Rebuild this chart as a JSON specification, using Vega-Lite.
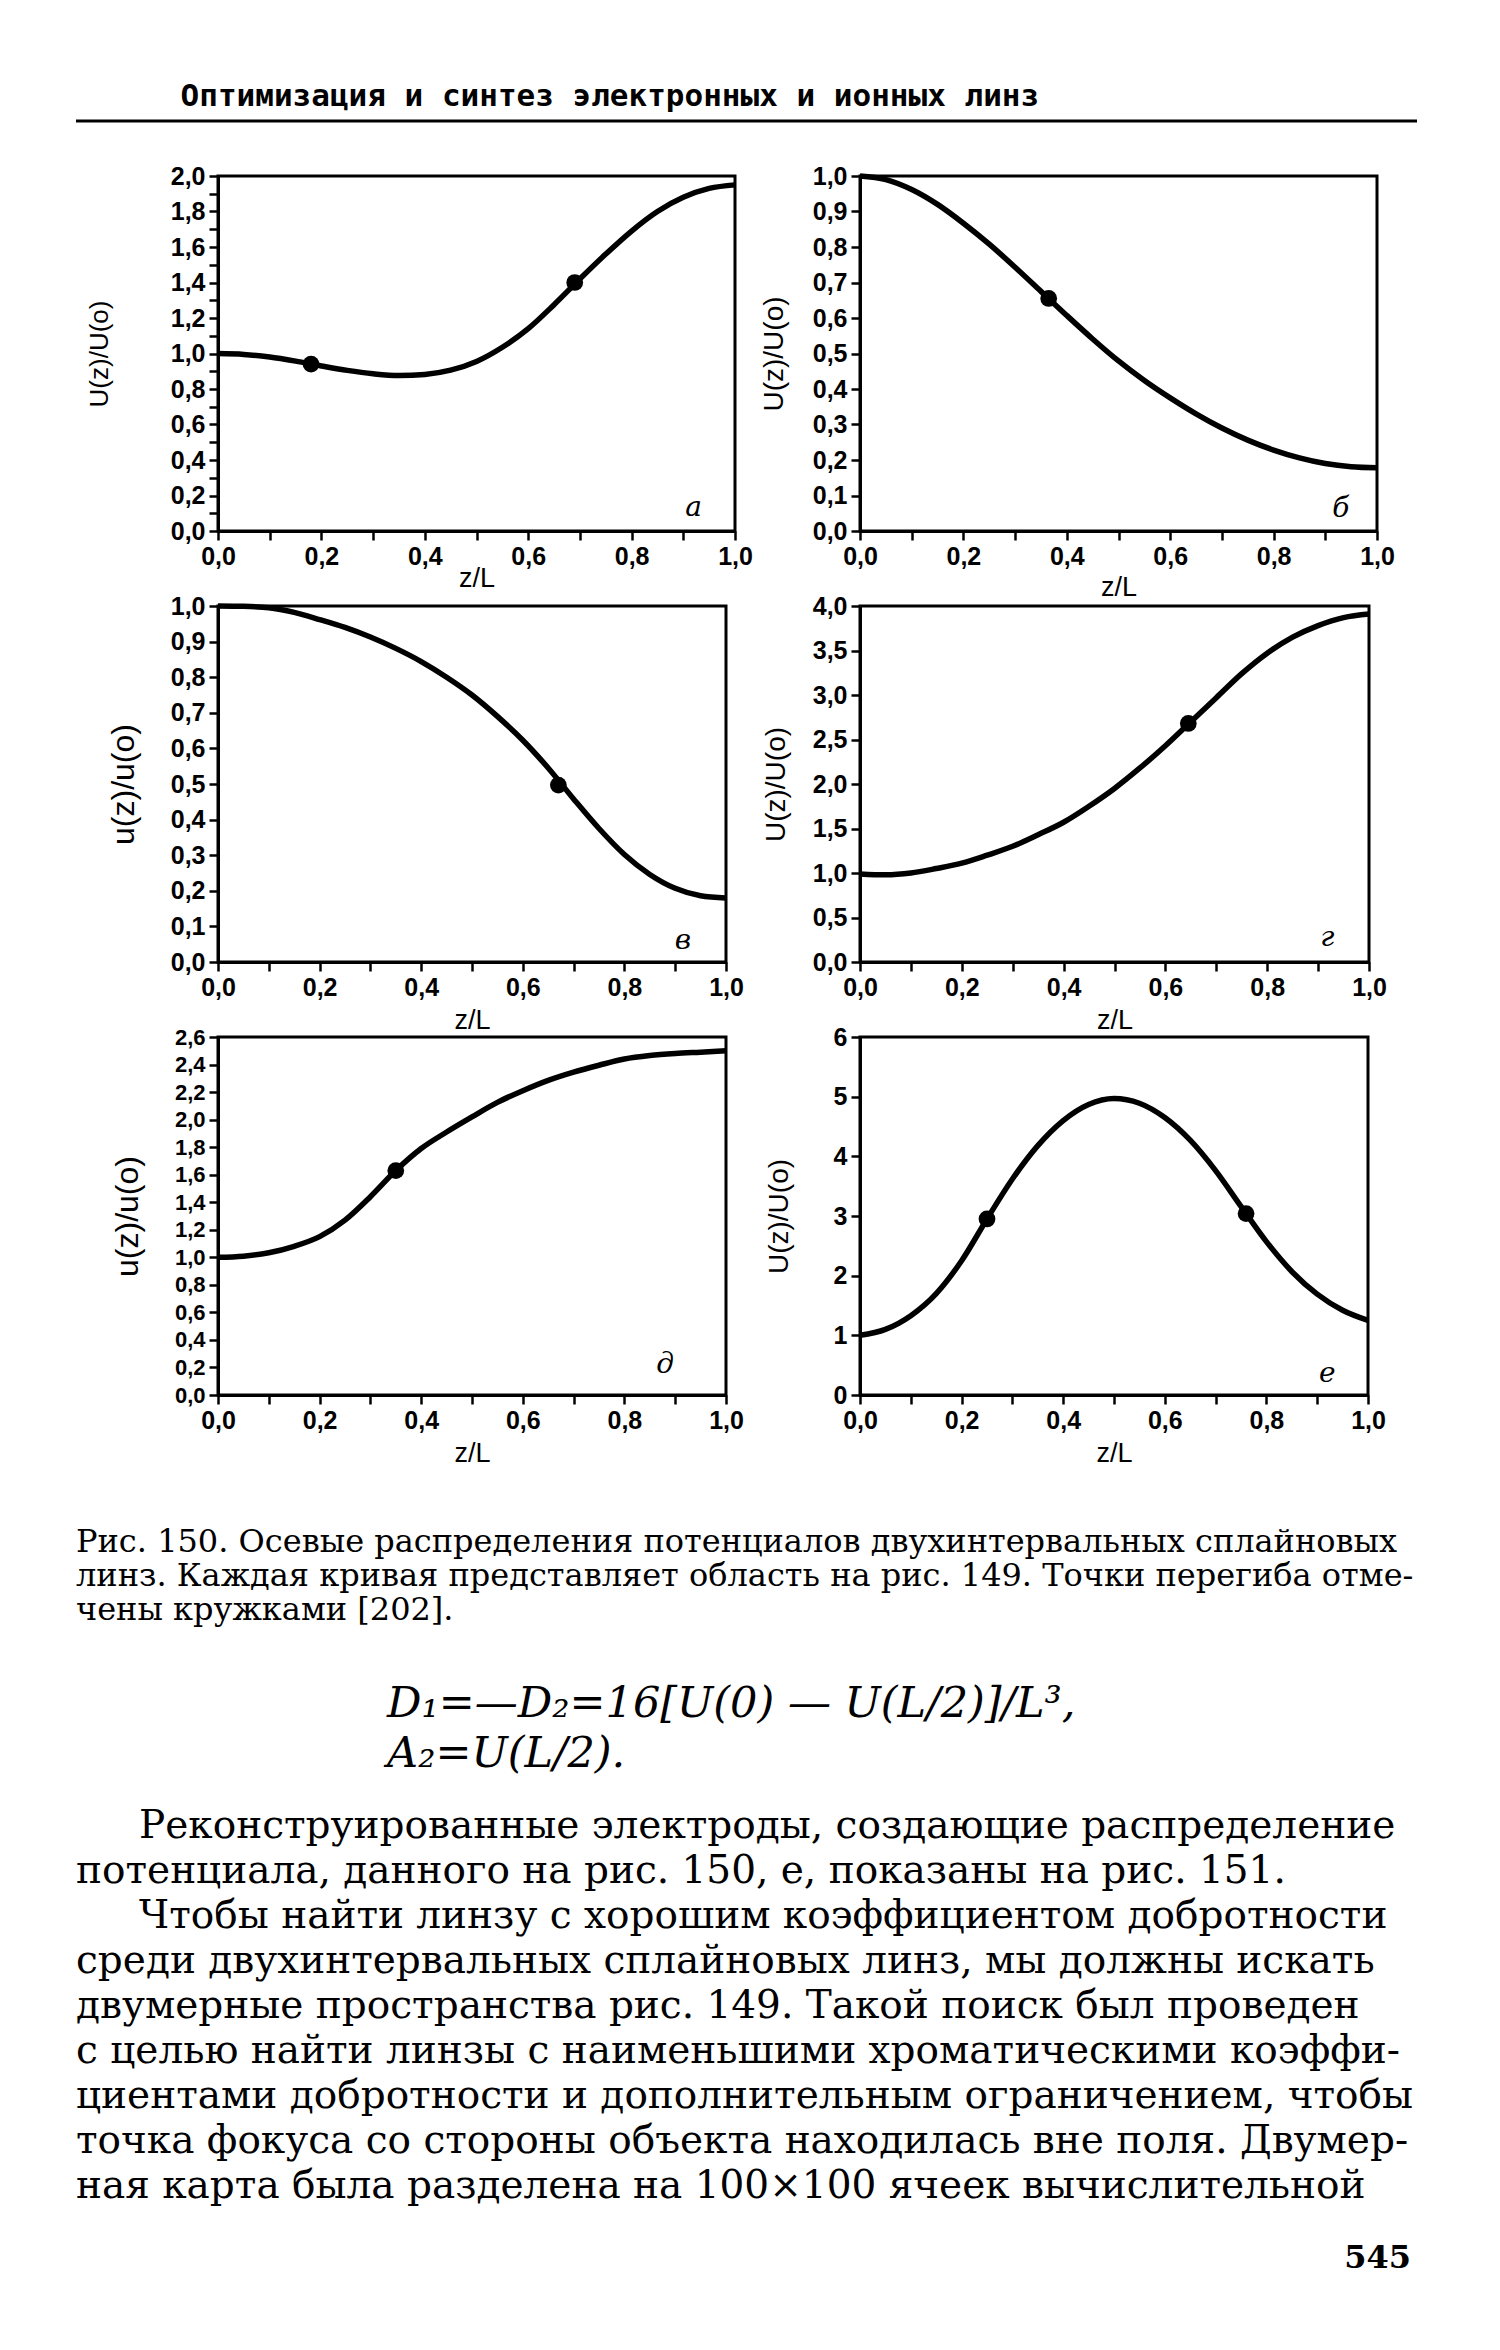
{
  "$schema": "https://vega.github.io/schema/vega-lite/v6.json",
  "background": "white",
  "padding": {"left": 74, "top": 75, "right": 10, "bottom": 10},
  "autosize": {"type": "pad"},
  "config": {
    "view": {"stroke": "black", "strokeWidth": 3},
    "axis": {"domainColor": "black", "domainWidth": 3, "tickColor": "black", "tickWidth": 2.5, "tickSize": 9, "tickCount": 60,
      "labelFont": "Liberation Sans Narrow, Liberation Sans", "labelFontSize": 25, "labelFontWeight": "bold", "labelColor": "black", "labelPadding": 4,
      "titleFont": "Liberation Sans", "titleFontWeight": "normal", "titleColor": "black", "titleFontSize": 27,
      "grid": false, "labelFlush": false, "labelOverlap": false, "labelBound": false}
  },
  "datasets": {
    "curves": [
      {"p":"a","z":0,"u":1.0},{"p":"a","z":0.05,"u":0.995},{"p":"a","z":0.1,"u":0.98},{"p":"a","z":0.15,"u":0.957},{"p":"a","z":0.2,"u":0.93},{"p":"a","z":0.25,"u":0.905},{"p":"a","z":0.3,"u":0.886},{"p":"a","z":0.35,"u":0.876},{"p":"a","z":0.4,"u":0.882},{"p":"a","z":0.45,"u":0.906},{"p":"a","z":0.5,"u":0.955},{"p":"a","z":0.55,"u":1.035},{"p":"a","z":0.6,"u":1.14},{"p":"a","z":0.65,"u":1.275},{"p":"a","z":0.7,"u":1.42},{"p":"a","z":0.75,"u":1.56},{"p":"a","z":0.8,"u":1.69},{"p":"a","z":0.85,"u":1.8},{"p":"a","z":0.9,"u":1.88},{"p":"a","z":0.95,"u":1.93},{"p":"a","z":1.0,"u":1.95},
      {"p":"b","z":0,"u":1.0},{"p":"b","z":0.05,"u":0.99},{"p":"b","z":0.1,"u":0.962},{"p":"b","z":0.15,"u":0.92},{"p":"b","z":0.2,"u":0.867},{"p":"b","z":0.25,"u":0.808},{"p":"b","z":0.3,"u":0.743},{"p":"b","z":0.35,"u":0.675},{"p":"b","z":0.4,"u":0.607},{"p":"b","z":0.45,"u":0.541},{"p":"b","z":0.5,"u":0.479},{"p":"b","z":0.55,"u":0.424},{"p":"b","z":0.6,"u":0.375},{"p":"b","z":0.65,"u":0.33},{"p":"b","z":0.7,"u":0.29},{"p":"b","z":0.75,"u":0.256},{"p":"b","z":0.8,"u":0.228},{"p":"b","z":0.85,"u":0.206},{"p":"b","z":0.9,"u":0.19},{"p":"b","z":0.95,"u":0.181},{"p":"b","z":1.0,"u":0.178},
      {"p":"v","z":0,"u":1.0},{"p":"v","z":0.05,"u":0.999},{"p":"v","z":0.1,"u":0.995},{"p":"v","z":0.15,"u":0.982},{"p":"v","z":0.2,"u":0.962},{"p":"v","z":0.25,"u":0.94},{"p":"v","z":0.3,"u":0.913},{"p":"v","z":0.35,"u":0.881},{"p":"v","z":0.4,"u":0.844},{"p":"v","z":0.45,"u":0.8},{"p":"v","z":0.5,"u":0.75},{"p":"v","z":0.55,"u":0.69},{"p":"v","z":0.6,"u":0.623},{"p":"v","z":0.65,"u":0.545},{"p":"v","z":0.7,"u":0.458},{"p":"v","z":0.75,"u":0.375},{"p":"v","z":0.8,"u":0.302},{"p":"v","z":0.85,"u":0.246},{"p":"v","z":0.9,"u":0.207},{"p":"v","z":0.95,"u":0.186},{"p":"v","z":1.0,"u":0.18},
      {"p":"g","z":0,"u":0.99},{"p":"g","z":0.05,"u":0.98},{"p":"g","z":0.1,"u":1.0},{"p":"g","z":0.15,"u":1.05},{"p":"g","z":0.2,"u":1.11},{"p":"g","z":0.25,"u":1.2},{"p":"g","z":0.3,"u":1.3},{"p":"g","z":0.35,"u":1.43},{"p":"g","z":0.4,"u":1.57},{"p":"g","z":0.45,"u":1.75},{"p":"g","z":0.5,"u":1.95},{"p":"g","z":0.55,"u":2.18},{"p":"g","z":0.6,"u":2.43},{"p":"g","z":0.65,"u":2.7},{"p":"g","z":0.7,"u":2.97},{"p":"g","z":0.75,"u":3.24},{"p":"g","z":0.8,"u":3.47},{"p":"g","z":0.85,"u":3.65},{"p":"g","z":0.9,"u":3.78},{"p":"g","z":0.95,"u":3.87},{"p":"g","z":1.0,"u":3.91},
      {"p":"d","z":0,"u":1.0},{"p":"d","z":0.05,"u":1.008},{"p":"d","z":0.1,"u":1.033},{"p":"d","z":0.15,"u":1.08},{"p":"d","z":0.2,"u":1.15},{"p":"d","z":0.25,"u":1.27},{"p":"d","z":0.3,"u":1.44},{"p":"d","z":0.35,"u":1.63},{"p":"d","z":0.4,"u":1.79},{"p":"d","z":0.45,"u":1.91},{"p":"d","z":0.5,"u":2.02},{"p":"d","z":0.55,"u":2.125},{"p":"d","z":0.6,"u":2.21},{"p":"d","z":0.65,"u":2.285},{"p":"d","z":0.7,"u":2.345},{"p":"d","z":0.75,"u":2.395},{"p":"d","z":0.8,"u":2.44},{"p":"d","z":0.85,"u":2.465},{"p":"d","z":0.9,"u":2.48},{"p":"d","z":0.95,"u":2.49},{"p":"d","z":1.0,"u":2.5},
      {"p":"e","z":0,"u":1.0},{"p":"e","z":0.05,"u":1.1},{"p":"e","z":0.1,"u":1.33},{"p":"e","z":0.15,"u":1.7},{"p":"e","z":0.2,"u":2.25},{"p":"e","z":0.25,"u":2.95},{"p":"e","z":0.3,"u":3.62},{"p":"e","z":0.35,"u":4.18},{"p":"e","z":0.4,"u":4.6},{"p":"e","z":0.45,"u":4.87},{"p":"e","z":0.5,"u":4.97},{"p":"e","z":0.55,"u":4.89},{"p":"e","z":0.6,"u":4.65},{"p":"e","z":0.65,"u":4.27},{"p":"e","z":0.7,"u":3.76},{"p":"e","z":0.75,"u":3.16},{"p":"e","z":0.8,"u":2.57},{"p":"e","z":0.85,"u":2.07},{"p":"e","z":0.9,"u":1.69},{"p":"e","z":0.95,"u":1.42},{"p":"e","z":1.0,"u":1.25}
    ],
    "marks": [
      {"p":"a","z":0.18,"u":0.94},{"p":"a","z":0.69,"u":1.40},
      {"p":"b","z":0.365,"u":0.655},
      {"p":"v","z":0.67,"u":0.497},
      {"p":"g","z":0.645,"u":2.68},
      {"p":"d","z":0.35,"u":1.63},
      {"p":"e","z":0.25,"u":2.95},{"p":"e","z":0.76,"u":3.04}
    ],
    "letters": [
      {"p":"a","z":0.92,"u":0.13,"t":"а"},
      {"p":"b","z":0.93,"u":0.063,"t":"б"},
      {"p":"v","z":0.915,"u":0.06,"t":"в"},
      {"p":"g","z":0.918,"u":0.27,"t":"г"},
      {"p":"d","z":0.88,"u":0.22,"t":"д"},
      {"p":"e","z":0.92,"u":0.35,"t":"е"}
    ],
    "header": [{"text": "Оптимизация и синтез электронных и ионных линз"}],
    "caption": [
      {"line": 0, "indent": 0, "text": "Рис. 150. Осевые распределения потенциалов двухинтервальных сплайновых"},
      {"line": 1, "indent": 0, "text": "линз. Каждая кривая представляет область на рис. 149. Точки перегиба отме-"},
      {"line": 2, "indent": 0, "text": "чены кружками [202]."}
    ],
    "formula": [
      {"line": 0, "indent": 0.232, "text": "D₁=—D₂=16[U(0) — U(L/2)]/L³,"},
      {"line": 1, "indent": 0.232, "text": "A₂=U(L/2)."}
    ],
    "body": [
      {"line": 0, "indent": 0.047, "text": "Реконструированные электроды, создающие распределение"},
      {"line": 1, "indent": 0, "text": "потенциала, данного на рис. 150, е, показаны на рис. 151."},
      {"line": 2, "indent": 0.047, "text": "Чтобы найти линзу с хорошим коэффициентом добротности"},
      {"line": 3, "indent": 0, "text": "среди двухинтервальных сплайновых линз, мы должны искать"},
      {"line": 4, "indent": 0, "text": "двумерные пространства рис. 149. Такой поиск был проведен"},
      {"line": 5, "indent": 0, "text": "с целью найти линзы с наименьшими хроматическими коэффи-"},
      {"line": 6, "indent": 0, "text": "циентами добротности и дополнительным ограничением, чтобы"},
      {"line": 7, "indent": 0, "text": "точка фокуса со стороны объекта находилась вне поля. Двумер-"},
      {"line": 8, "indent": 0, "text": "ная карта была разделена на 100×100 ячеек вычислительной"}
    ],
    "page": [{"line": 0, "indent": 0.9955, "text": "545"}]
  },
  "columns": 2,
  "align": "each",
  "bounds": "flush",
  "spacing": {"row": 75, "column": 125},
  "concat": [
    {
      "width": 500, "height": 20,
      "view": {"stroke": null},
      "layer": [
        {
          "data": {"name": "header"},
          "mark": {"type": "text", "align": "left", "baseline": "alphabetic", "font": "DejaVu Sans Mono", "fontWeight": "bold", "fontSize": 31, "color": "black"},
          "encoding": {
            "x": {"datum": 0.078, "type": "quantitative", "scale": {"domain": [0, 1], "range": [-142, 1199]}, "axis": null},
            "y": {"datum": 0, "type": "quantitative", "scale": {"domain": [0, 1], "range": [25, 40]}, "axis": null},
            "text": {"field": "text"}
          }
        },
        {
          "data": {"name": "header"},
          "mark": {"type": "rule", "color": "black", "strokeWidth": 3},
          "encoding": {
            "x": {"datum": 0, "type": "quantitative", "scale": {"domain": [0, 1], "range": [-142, 1199]}, "axis": null},
            "x2": {"datum": 1},
            "y": {"datum": 1, "type": "quantitative", "scale": {"domain": [0, 1], "range": [25, 40]}, "axis": null}
          }
        }
      ]
    },
    {
      "width": 1, "height": 1,
      "view": {"stroke": null},
      "data": {"values": [{"t": ""}]},
      "mark": {"type": "text"},
      "encoding": {"text": {"field": "t"}}
    },
    {
      "width": 517, "height": 355,
      "layer": [
        {"data": {"name": "curves"}, "transform": [{"filter": "datum.p == 'a'"}],
         "mark": {"type": "line", "interpolate": "monotone", "color": "black", "strokeWidth": 5.5},
         "encoding": {
           "x": {"field": "z", "type": "quantitative", "scale": {"domain": [0, 1], "nice": false},
                 "axis": {"title": "z/L", "tickCount": 60, "values": [0,0.1,0.2,0.3,0.4,0.5,0.6,0.7,0.8,0.9,1], "labelExpr": "round(datum.value*10)%2==0 ? replace(format(datum.value,'.1f'),'.',',') : ''", "titlePadding": -4}},
           "y": {"field": "u", "type": "quantitative", "scale": {"domain": [0, 2], "nice": false},
                 "axis": {"title": "U(z)/U(o)", "tickCount": 60, "titleFontSize": 26, "values": [0,0.1,0.2,0.3,0.4,0.5,0.6,0.7,0.8,0.9,1,1.1,1.2,1.3,1.4,1.5,1.6,1.7,1.8,1.9,2], "labelExpr": "round(datum.value*10)%2==0 ? replace(format(datum.value,'.1f'),'.',',') : ''", "titlePadding": 58}}
         }},
        {"data": {"name": "marks"}, "transform": [{"filter": "datum.p == 'a'"}],
         "mark": {"type": "point", "filled": true, "color": "black", "opacity": 1, "size": 280},
         "encoding": {"x": {"field": "z", "type": "quantitative"}, "y": {"field": "u", "type": "quantitative"}}},
        {"data": {"name": "letters"}, "transform": [{"filter": "datum.p == 'a'"}],
         "mark": {"type": "text", "font": "DejaVu Serif", "fontStyle": "italic", "fontSize": 28, "color": "black", "baseline": "middle"},
         "encoding": {"x": {"field": "z", "type": "quantitative"}, "y": {"field": "u", "type": "quantitative"}, "text": {"field": "t"}}}
      ]
    },
    {
      "width": 517, "height": 355,
      "layer": [
        {"data": {"name": "curves"}, "transform": [{"filter": "datum.p == 'b'"}],
         "mark": {"type": "line", "interpolate": "monotone", "color": "black", "strokeWidth": 5.5},
         "encoding": {
           "x": {"field": "z", "type": "quantitative", "scale": {"domain": [0, 1], "nice": false},
                 "axis": {"title": "z/L", "tickCount": 60, "values": [0,0.1,0.2,0.3,0.4,0.5,0.6,0.7,0.8,0.9,1], "labelExpr": "round(datum.value*10)%2==0 ? replace(format(datum.value,'.1f'),'.',',') : ''", "titlePadding": 5}},
           "y": {"field": "u", "type": "quantitative", "scale": {"domain": [0, 1], "nice": false},
                 "axis": {"title": "U(z)/U(o)", "tickCount": 60, "titleFontSize": 28, "values": [0,0.1,0.2,0.3,0.4,0.5,0.6,0.7,0.8,0.9,1], "labelExpr": "replace(format(datum.value,'.1f'),'.',',')", "titlePadding": 24}}
         }},
        {"data": {"name": "marks"}, "transform": [{"filter": "datum.p == 'b'"}],
         "mark": {"type": "point", "filled": true, "color": "black", "opacity": 1, "size": 280},
         "encoding": {"x": {"field": "z", "type": "quantitative"}, "y": {"field": "u", "type": "quantitative"}}},
        {"data": {"name": "letters"}, "transform": [{"filter": "datum.p == 'b'"}],
         "mark": {"type": "text", "font": "DejaVu Serif", "fontStyle": "italic", "fontSize": 28, "color": "black", "baseline": "middle"},
         "encoding": {"x": {"field": "z", "type": "quantitative"}, "y": {"field": "u", "type": "quantitative"}, "text": {"field": "t"}}}
      ]
    },
    {
      "width": 508, "height": 356,
      "layer": [
        {"data": {"name": "curves"}, "transform": [{"filter": "datum.p == 'v'"}],
         "mark": {"type": "line", "interpolate": "monotone", "color": "black", "strokeWidth": 5.5},
         "encoding": {
           "x": {"field": "z", "type": "quantitative", "scale": {"domain": [0, 1], "nice": false},
                 "axis": {"title": "z/L", "tickCount": 60, "values": [0,0.1,0.2,0.3,0.4,0.5,0.6,0.7,0.8,0.9,1], "labelExpr": "round(datum.value*10)%2==0 ? replace(format(datum.value,'.1f'),'.',',') : ''", "titlePadding": 7}},
           "y": {"field": "u", "type": "quantitative", "scale": {"domain": [0, 1], "nice": false},
                 "axis": {"title": "u(z)/u(o)", "tickCount": 60, "titleFontSize": 32, "values": [0,0.1,0.2,0.3,0.4,0.5,0.6,0.7,0.8,0.9,1], "labelExpr": "replace(format(datum.value,'.1f'),'.',',')", "titlePadding": 30}}
         }},
        {"data": {"name": "marks"}, "transform": [{"filter": "datum.p == 'v'"}],
         "mark": {"type": "point", "filled": true, "color": "black", "opacity": 1, "size": 280},
         "encoding": {"x": {"field": "z", "type": "quantitative"}, "y": {"field": "u", "type": "quantitative"}}},
        {"data": {"name": "letters"}, "transform": [{"filter": "datum.p == 'v'"}],
         "mark": {"type": "text", "font": "DejaVu Serif", "fontStyle": "italic", "fontSize": 28, "color": "black", "baseline": "middle"},
         "encoding": {"x": {"field": "z", "type": "quantitative"}, "y": {"field": "u", "type": "quantitative"}, "text": {"field": "t"}}}
      ]
    },
    {
      "width": 509, "height": 356,
      "layer": [
        {"data": {"name": "curves"}, "transform": [{"filter": "datum.p == 'g'"}],
         "mark": {"type": "line", "interpolate": "monotone", "color": "black", "strokeWidth": 5.5},
         "encoding": {
           "x": {"field": "z", "type": "quantitative", "scale": {"domain": [0, 1], "nice": false},
                 "axis": {"title": "z/L", "tickCount": 60, "values": [0,0.1,0.2,0.3,0.4,0.5,0.6,0.7,0.8,0.9,1], "labelExpr": "round(datum.value*10)%2==0 ? replace(format(datum.value,'.1f'),'.',',') : ''", "titlePadding": 7}},
           "y": {"field": "u", "type": "quantitative", "scale": {"domain": [0, 4], "nice": false},
                 "axis": {"title": "U(z)/U(o)", "tickCount": 60, "titleFontSize": 28, "values": [0,0.5,1,1.5,2,2.5,3,3.5,4], "labelExpr": "replace(format(datum.value,'.1f'),'.',',')", "titlePadding": 22}}
         }},
        {"data": {"name": "marks"}, "transform": [{"filter": "datum.p == 'g'"}],
         "mark": {"type": "point", "filled": true, "color": "black", "opacity": 1, "size": 280},
         "encoding": {"x": {"field": "z", "type": "quantitative"}, "y": {"field": "u", "type": "quantitative"}}},
        {"data": {"name": "letters"}, "transform": [{"filter": "datum.p == 'g'"}],
         "mark": {"type": "text", "font": "DejaVu Serif", "fontStyle": "italic", "fontSize": 28, "color": "black", "baseline": "middle"},
         "encoding": {"x": {"field": "z", "type": "quantitative"}, "y": {"field": "u", "type": "quantitative"}, "text": {"field": "t"}}}
      ]
    },
    {
      "width": 508, "height": 358,
      "layer": [
        {"data": {"name": "curves"}, "transform": [{"filter": "datum.p == 'd'"}],
         "mark": {"type": "line", "interpolate": "monotone", "color": "black", "strokeWidth": 5.5},
         "encoding": {
           "x": {"field": "z", "type": "quantitative", "scale": {"domain": [0, 1], "nice": false},
                 "axis": {"title": "z/L", "tickCount": 60, "values": [0,0.1,0.2,0.3,0.4,0.5,0.6,0.7,0.8,0.9,1], "labelExpr": "round(datum.value*10)%2==0 ? replace(format(datum.value,'.1f'),'.',',') : ''", "titlePadding": 7}},
           "y": {"field": "u", "type": "quantitative", "scale": {"domain": [0, 2.6], "nice": false},
                 "axis": {"title": "u(z)/u(o)", "tickCount": 60, "titleFontSize": 32, "labelFontSize": 22, "values": [0,0.2,0.4,0.6,0.8,1,1.2,1.4,1.6,1.8,2,2.2,2.4,2.6], "labelExpr": "replace(format(datum.value,'.1f'),'.',',')", "titlePadding": 30}}
         }},
        {"data": {"name": "marks"}, "transform": [{"filter": "datum.p == 'd'"}],
         "mark": {"type": "point", "filled": true, "color": "black", "opacity": 1, "size": 280},
         "encoding": {"x": {"field": "z", "type": "quantitative"}, "y": {"field": "u", "type": "quantitative"}}},
        {"data": {"name": "letters"}, "transform": [{"filter": "datum.p == 'd'"}],
         "mark": {"type": "text", "font": "DejaVu Serif", "fontStyle": "italic", "fontSize": 28, "color": "black", "baseline": "middle"},
         "encoding": {"x": {"field": "z", "type": "quantitative"}, "y": {"field": "u", "type": "quantitative"}, "text": {"field": "t"}}}
      ]
    },
    {
      "width": 508, "height": 358,
      "layer": [
        {"data": {"name": "curves"}, "transform": [{"filter": "datum.p == 'e'"}],
         "mark": {"type": "line", "interpolate": "monotone", "color": "black", "strokeWidth": 5.5},
         "encoding": {
           "x": {"field": "z", "type": "quantitative", "scale": {"domain": [0, 1], "nice": false},
                 "axis": {"title": "z/L", "tickCount": 60, "values": [0,0.1,0.2,0.3,0.4,0.5,0.6,0.7,0.8,0.9,1], "labelExpr": "round(datum.value*10)%2==0 ? replace(format(datum.value,'.1f'),'.',',') : ''", "titlePadding": 7}},
           "y": {"field": "u", "type": "quantitative", "scale": {"domain": [0, 6], "nice": false},
                 "axis": {"title": "U(z)/U(o)", "tickCount": 60, "titleFontSize": 28, "values": [0,1,2,3,4,5,6], "format": "d", "titlePadding": 40}}
         }},
        {"data": {"name": "marks"}, "transform": [{"filter": "datum.p == 'e'"}],
         "mark": {"type": "point", "filled": true, "color": "black", "opacity": 1, "size": 280},
         "encoding": {"x": {"field": "z", "type": "quantitative"}, "y": {"field": "u", "type": "quantitative"}}},
        {"data": {"name": "letters"}, "transform": [{"filter": "datum.p == 'e'"}],
         "mark": {"type": "text", "font": "DejaVu Serif", "fontStyle": "italic", "fontSize": 28, "color": "black", "baseline": "middle"},
         "encoding": {"x": {"field": "z", "type": "quantitative"}, "y": {"field": "u", "type": "quantitative"}, "text": {"field": "t"}}}
      ]
    },
    {
      "width": 500, "height": 850,
      "view": {"stroke": null},
      "resolve": {"scale": {"y": "independent"}},
      "layer": [
        {"data": {"name": "caption"},
         "mark": {"type": "text", "align": "left", "baseline": "alphabetic", "font": "DejaVu Serif", "fontSize": 32, "color": "black"},
         "encoding": {
           "x": {"field": "indent", "type": "quantitative", "scale": {"domain": [0, 1], "range": [-142, 1199]}, "axis": null},
           "y": {"field": "line", "type": "quantitative", "scale": {"domain": [0, 2], "range": [82, 150]}, "axis": null},
           "text": {"field": "text"}}},
        {"data": {"name": "formula"},
         "mark": {"type": "text", "align": "left", "baseline": "alphabetic", "font": "DejaVu Serif", "fontStyle": "italic", "fontSize": 43, "color": "black"},
         "encoding": {
           "x": {"field": "indent", "type": "quantitative", "scale": {"domain": [0, 1], "range": [-142, 1199]}, "axis": null},
           "y": {"field": "line", "type": "quantitative", "scale": {"domain": [0, 1], "range": [247, 297]}, "axis": null},
           "text": {"field": "text"}}},
        {"data": {"name": "body"},
         "mark": {"type": "text", "align": "left", "baseline": "alphabetic", "font": "DejaVu Serif", "fontSize": 39, "color": "black"},
         "encoding": {
           "x": {"field": "indent", "type": "quantitative", "scale": {"domain": [0, 1], "range": [-142, 1199]}, "axis": null},
           "y": {"field": "line", "type": "quantitative", "scale": {"domain": [0, 8], "range": [368, 728]}, "axis": null},
           "text": {"field": "text"}}},
        {"data": {"name": "page"},
         "mark": {"type": "text", "align": "right", "baseline": "alphabetic", "font": "DejaVu Serif", "fontWeight": "bold", "fontSize": 32, "color": "black"},
         "encoding": {
           "x": {"field": "indent", "type": "quantitative", "scale": {"domain": [0, 1], "range": [-142, 1199]}, "axis": null},
           "y": {"field": "line", "type": "quantitative", "scale": {"domain": [0, 1], "range": [798, 843]}, "axis": null},
           "text": {"field": "text"}}}
      ]
    },
    {
      "width": 1, "height": 1,
      "view": {"stroke": null},
      "data": {"values": [{"t": ""}]},
      "mark": {"type": "text"},
      "encoding": {"text": {"field": "t"}}
    }
  ]
}
